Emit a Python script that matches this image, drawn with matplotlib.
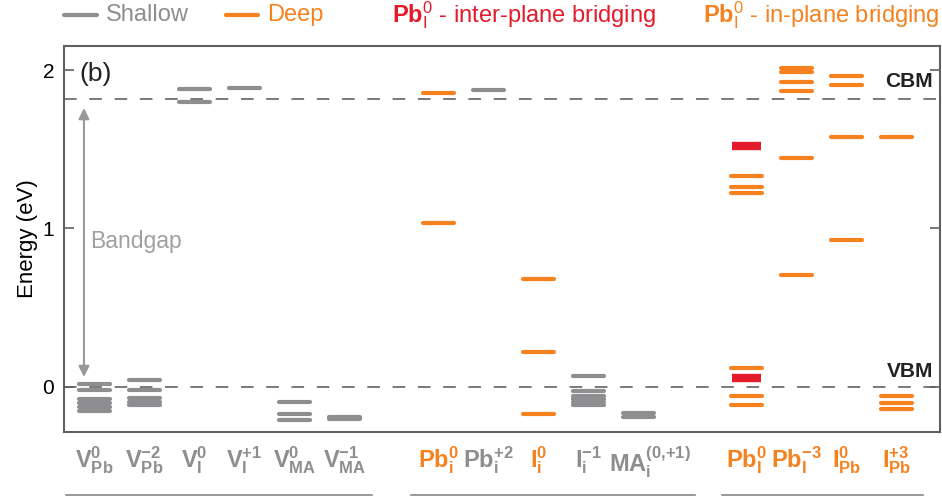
import matplotlib.pyplot as plt
import matplotlib.transforms as mtransforms
from matplotlib.lines import Line2D
import numpy as np

plt.rcParams['font.family'] = ['Liberation Sans', 'DejaVu Sans']
plt.rcParams['mathtext.fontset'] = 'custom'
plt.rcParams['mathtext.rm'] = 'Liberation Sans'
plt.rcParams['mathtext.it'] = 'Liberation Sans:italic'
plt.rcParams['mathtext.bf'] = 'Liberation Sans:bold'

GRAY = '#8e8e90'
ORANGE = '#f5821f'
RED = '#e31b2b'

# defect labels, grouped: vacancies | interstitials | substitutionals/bridging
labels = [r'$\mathbf{V}_{\mathbf{Pb}}^{\mathbf{0}}$', r'$\mathbf{V}_{\mathbf{Pb}}^{\mathbf{{-}2}}$',
          r'$\mathbf{V}_{\mathbf{I}}^{\mathbf{0}}$', r'$\mathbf{V}_{\mathbf{I}}^{\mathbf{{+}1}}$',
          r'$\mathbf{V}_{\mathbf{MA}}^{\mathbf{0}}$', r'$\mathbf{V}_{\mathbf{MA}}^{\mathbf{{-}1}}$',
          r'$\mathbf{Pb}_{\mathbf{i}}^{\mathbf{0}}$', r'$\mathbf{Pb}_{\mathbf{i}}^{\mathbf{{+}2}}$',
          r'$\mathbf{I}_{\mathbf{i}}^{\mathbf{0}}$', r'$\mathbf{I}_{\mathbf{i}}^{\mathbf{{-}1}}$',
          r'$\mathbf{MA}_{\mathbf{i}}^{\mathbf{(0{,}{+}1)}}$',
          r'$\mathbf{Pb}_{\mathbf{I}}^{\mathbf{0}}$', r'$\mathbf{Pb}_{\mathbf{I}}^{\mathbf{{-}3}}$',
          r'$\mathbf{I}_{\mathbf{Pb}}^{\mathbf{0}}$', r'$\mathbf{I}_{\mathbf{Pb}}^{\mathbf{{+}3}}$']
group_sizes = [6, 5, 4]
group_starts = [0.0, 6.88, 13.05]

# trap levels (eV, relative to VBM)
levels = [
    [0.015, -0.025, -0.08, -0.105, -0.13, -0.155],   # V_Pb 0
    [0.04, -0.025, -0.075, -0.095, -0.115],          # V_Pb -2
    [1.878, 1.798],                                  # V_I 0
    [1.888],                                         # V_I +1
    [-0.096, -0.174, -0.212],                        # V_MA 0
    [-0.19, -0.205],                                 # V_MA -1
    [1.857, 1.033],                                  # Pb_i 0
    [1.874],                                         # Pb_i +2
    [0.681, 0.218, -0.176],                          # I_i 0
    [0.068, -0.027, -0.06, -0.08, -0.10, -0.12],     # I_i -1
    [-0.17, -0.195],                                 # MA_i
    [1.332, 1.259, 1.225, 0.119, -0.058, -0.119],    # Pb_I 0
    [2.013, 1.987, 1.922, 1.869, 1.442, 0.707],      # Pb_I -3
    [1.962, 1.907, 1.577, 0.926],                    # I_Pb 0
    [1.577, -0.06, -0.106, -0.14],                   # I_Pb +3
]
deep = [False, False, False, False, False, False,
        True, False, True, False, False,
        True, True, True, True]
# inter-plane bridging levels of Pb_I 0
bridging = [1.517, 0.055]

cbm = 1.82
vbm = 0.0

x = np.concatenate([s + np.arange(n) for s, n in zip(group_starts, group_sizes)])
half = 0.34

fig = plt.figure(figsize=(9.42, 4.97), dpi=100)
ax = fig.add_axes([0.0679, 0.1308, 0.93, 0.7766])

for e in (cbm, vbm):
    ax.axhline(e, color='#7a7a7a', lw=1.4, dashes=(6.5, 6.5), zorder=1)

for xi, lv, d in zip(x, levels, deep):
    c = ORANGE if d else GRAY
    for e in lv:
        ax.plot([xi - half + 0.03, xi + half - 0.03], [e, e], color=c, lw=3,
                solid_capstyle='round', zorder=2)
for e in bridging:
    ax.plot([x[11] - half + 0.05, x[11] + half - 0.05], [e, e], color=RED, lw=6,
            solid_capstyle='butt', zorder=2)

ax.set_xlim(-0.61, 16.92)
ax.set_ylim(-0.2875, 2.152)
ax.set_yticks([0, 1, 2])
ax.tick_params(axis='y', direction='in', length=7, width=1.2, color='#606060',
               labelsize=15, pad=7, right=True)
ax.set_xticks(x)
ax.set_xticklabels(labels, fontsize=17)
ax.tick_params(axis='x', length=0, pad=9)
for lab, d in zip(ax.get_xticklabels(), deep):
    lab.set_color(ORANGE if d else GRAY)
# MA_i label sits a little right of its column
ax.get_xticklabels()[10].set_transform(ax.get_xticklabels()[10].get_transform()
                                       + mtransforms.Affine2D().translate(12, 0))
for sp in ax.spines.values():
    sp.set_color('#606060')
    sp.set_linewidth(1.5)
ax.set_ylabel('Energy (eV)', fontsize=16, labelpad=3)

ax.text(0.018, 1.975, '(b)', transform=ax.get_yaxis_transform(), fontsize=19,
        va='center', ha='left', color='#222222')
ax.text(-0.08, 0.918, 'Bandgap', fontsize=16.5, color='#a0a0a0', va='center', ha='left')
ax.annotate('', xy=(-0.21, 1.76), xytext=(-0.21, 0.06),
            arrowprops=dict(arrowstyle='<|-|>', color='#999999', lw=1.5,
                            mutation_scale=16, shrinkA=0, shrinkB=0))
ax.text(0.992, 1.925, 'CBM', transform=ax.get_yaxis_transform(), fontsize=15,
        fontweight='bold', ha='right', va='center', color='#222222')
ax.text(0.992, 0.092, 'VBM', transform=ax.get_yaxis_transform(), fontsize=15,
        fontweight='bold', ha='right', va='center', color='#222222')

# group underlines below the labels
under = mtransforms.blended_transform_factory(ax.transData, fig.transFigure)
spans = [(-0.57, 5.56), (6.34, 12.01), (12.55, 16.58)]
for a, b in spans:
    ax.plot([a, b], [0.005, 0.005], transform=under, color='#888888', lw=1.2,
            clip_on=False)

# legend row
ly = 1 - 15 / 497
fig.add_artist(Line2D([64 / 942, 97 / 942], [ly, ly], color=GRAY, lw=3, solid_capstyle='round'))
fig.text(106 / 942, ly, 'Shallow', color=GRAY, fontsize=17, va='center')
fig.add_artist(Line2D([226 / 942, 258 / 942], [ly, ly], color=ORANGE, lw=3, solid_capstyle='round'))
fig.text(267 / 942, ly, 'Deep', color=ORANGE, fontsize=17, va='center')
fig.text(392 / 942, ly, r'$\mathbf{Pb}_{\mathrm{I}}^{0}$ - inter-plane bridging', color=RED,
         fontsize=17, va='center')
fig.text(703 / 942, ly, r'$\mathbf{Pb}_{\mathrm{I}}^{0}$ - in-plane bridging', color=ORANGE,
         fontsize=17, va='center')

fig.savefig('out.png', dpi=100)
